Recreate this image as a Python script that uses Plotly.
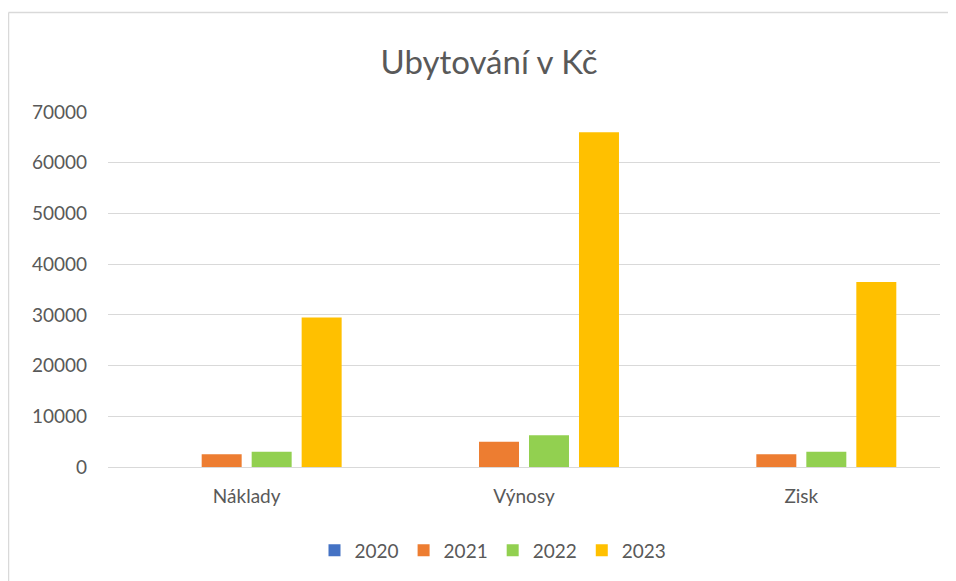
import plotly.graph_objects as go

categories = ["Náklady", "Výnosy", "Zisk"]
years = ["2020", "2021", "2022", "2023"]
values_2020 = [0, 0, 0]
values_2021 = [2500, 5000, 2500]
values_2022 = [3000, 6250, 3000]
values_2023 = [29500, 66000, 36500]
colors = ["#4472C4", "#ED7D31", "#92D050", "#FFC000"]
y_ticks = [0, 10000, 20000, 30000, 40000, 50000, 60000, 70000]

series = [values_2020, values_2021, values_2022, values_2023]

FONT = "Lato"
TXT = "#595959"

fig = go.Figure()
for name, vals, col in zip(years, series, colors):
    fig.add_trace(go.Bar(name=name, x=categories, y=vals, marker=dict(color=col, line=dict(width=0))))

OFF = 8  # page body margin
W, H = 948, 573
# target absolute pixel positions of plot area
AL, AR, AT, AB = 108, 940, 112, 466.7
L = AL - OFF
T = AT - OFF
R = W - (AR - OFF)
B = H - (AB - OFF)
pw = W - L - R
ph = H - T - B

def px_x(px):
    return (px - OFF - L) / pw

def px_y(py):
    return (H - B - (py - OFF)) / ph

border = dict(color="#d9d9d9", width=1.5)

fig.update_layout(
    width=W, height=H,
    margin=dict(l=L, r=R, t=T, b=B, autoexpand=False),
    paper_bgcolor="white", plot_bgcolor="white",
    barmode="group", bargap=0.279, bargroupgap=0.2,
    font=dict(family=FONT, color=TXT, size=19),
    title=dict(text="Ubytování v Kč", x=px_x(489), xanchor="center", y=1 - (62 - OFF) / H, yanchor="middle",
               xref="paper", font=dict(family=FONT, size=33, color=TXT)),
    legend=dict(orientation="h", x=px_x(493), xanchor="center", y=px_y(550), yanchor="middle",
                font=dict(size=19, color=TXT), itemwidth=30, traceorder="normal"),
    xaxis=dict(showgrid=False, showline=False, ticks="", ticklabelstandoff=16,
               tickfont=dict(size=19, color=TXT)),
    yaxis=dict(range=[0, 70000], tickvals=y_ticks, ticktext=[str(v) for v in y_ticks],
               showgrid=True, gridcolor="#d9d9d9", gridwidth=1.3, zeroline=True,
               zerolinecolor="#d9d9d9", zerolinewidth=1.3, showline=False, ticks="",
               ticklabelstandoff=20, tickfont=dict(size=19, color=TXT)),
    shapes=[
        dict(type="line", xref="paper", yref="paper",
             x0=px_x(8.5), x1=px_x(1000), y0=px_y(12.5), y1=px_y(12.5), line=border, layer="below"),
        dict(type="line", xref="paper", yref="paper",
             x0=px_x(8.5), x1=px_x(8.5), y0=px_y(12.5), y1=px_y(640), line=border, layer="below"),
    ],
)

fig.write_html("out.html", post_script="document.body.style.overflow='hidden';")
